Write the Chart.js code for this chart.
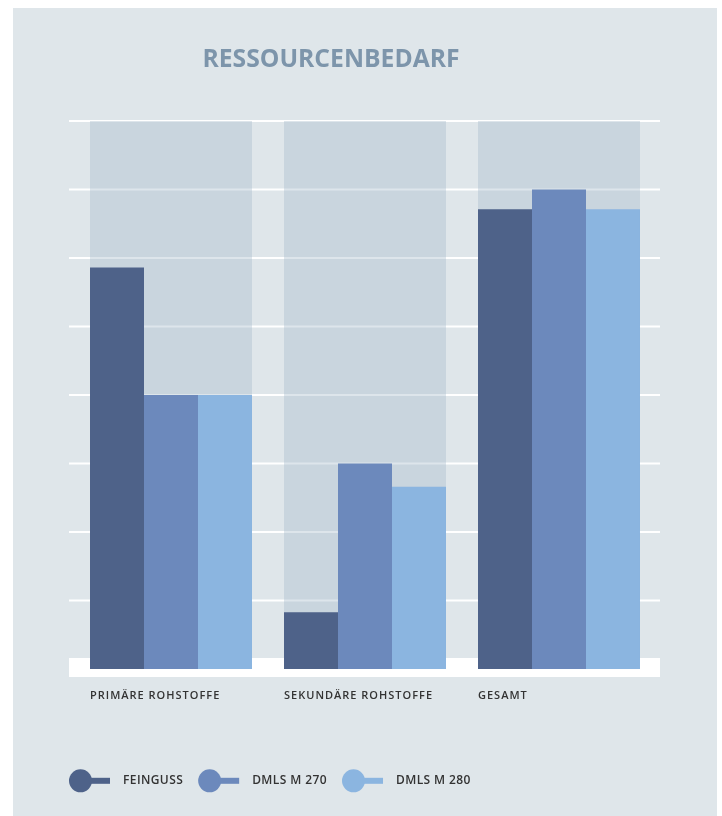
<!DOCTYPE html>
<html><head><meta charset="utf-8">
<script src="https://cdn.jsdelivr.net/npm/chart.js@4"></script>
<style>
html,body{margin:0;padding:0;background:#fff;}
body{width:722px;height:816px;position:relative;overflow:hidden;}
#panel{position:absolute;left:13px;top:8px;width:704px;height:808px;background:#dfe6ea;}
#c{position:absolute;left:0;top:0;}
</style></head><body>
<div id="panel"></div>
<canvas id="c" width="722" height="816"></canvas>
<script>
const TITLE = 'RESSOURCENBEDARF';
const CATEGORIES = ['PRIMÄRE ROHSTOFFE', 'SEKUNDÄRE ROHSTOFFE', 'GESAMT'];
const SERIES_NAMES = ['FEINGUSS', 'DMLS M 270', 'DMLS M 280'];
const FEINGUSS = [5.86, 0.83, 6.71];
const DMLS_M270 = [4.0, 3.0, 7.0];
const DMLS_M280 = [4.0, 2.66, 6.71];
const TRACK = [8, 8, 8];
const Y_TICKS = [0, 1, 2, 3, 4, 5, 6, 7, 8];

const COLORS = ['#4e6289', '#6c89bc', '#8bb5e0'];
const TRACK_COLOR = 'rgba(164,187,202,0.375)';
const FONT = '"Open Sans", "Noto Sans", sans-serif';

const spacingPlugin = {
  id: 'spacing',
  beforeDraw(chart) { chart.ctx.letterSpacing = '1px'; }
};

const gridPlugin = {
  id: 'gridBand',
  beforeDatasetsDraw(chart) {
    const ctx = chart.ctx, y = chart.scales.y;
    const left = 69, right = 660;
    ctx.save();
    ctx.fillStyle = '#ffffff';
    const zero = y.getPixelForValue(0);
    ctx.fillRect(left, zero - 11, right - left, 19);
    Y_TICKS.forEach(v => {
      if (v === 0) return;
      const py = y.getPixelForValue(v);
      ctx.fillRect(left, py - 1, right - left, 2);
    });
    ctx.restore();
  }
};

const overlayPlugin = {
  id: 'overlay',
  afterDraw(chart) {
    const ctx = chart.ctx;
    ctx.save();
    // title
    ctx.letterSpacing = '0px';
    ctx.font = '700 24.7px ' + FONT;
    ctx.fillStyle = '#7d95ab';
    ctx.textAlign = 'center';
    ctx.textBaseline = 'alphabetic';
    ctx.fillText(TITLE, 331, 67);
    // legend
    ctx.letterSpacing = '0.4px';
    ctx.font = '600 12px ' + FONT;
    ctx.textAlign = 'left';
    ctx.textBaseline = 'middle';
    let x = 69;
    const cy = 780.8;
    chart.data.datasets.forEach(ds => {
      if (ds.isTrack) return;
      ctx.fillStyle = ds.backgroundColor;
      ctx.beginPath();
      ctx.arc(x + 11.5, cy, 11.5, 0, Math.PI * 2);
      ctx.fill();
      ctx.fillRect(x + 20, cy - 3, 21, 6);
      ctx.fillStyle = '#333333';
      ctx.fillText(ds.label, x + 54, cy);
      x += 54 + ctx.measureText(ds.label).width + 15;
    });
    ctx.restore();
  }
};

new Chart(document.getElementById('c'), {
  type: 'bar',
  data: {
    labels: CATEGORIES,
    datasets: [
      { label: SERIES_NAMES[0], data: FEINGUSS, backgroundColor: COLORS[0], order: 1 },
      { label: SERIES_NAMES[1], data: DMLS_M270, backgroundColor: COLORS[1], order: 1 },
      { label: SERIES_NAMES[2], data: DMLS_M280, backgroundColor: COLORS[2], order: 1 },
      { label: 'track', isTrack: true, grouped: false, data: TRACK, backgroundColor: TRACK_COLOR, order: 5 }
    ]
  },
  options: {
    responsive: false,
    animation: false,
    devicePixelRatio: 1,
    layout: { padding: { top: 121, left: 74, right: 66, bottom: 107 } },
    datasets: { bar: { categoryPercentage: 0.835, barPercentage: 1, borderWidth: 0 } },
    scales: {
      x: {
        offset: true,
        grid: { display: false, drawTicks: false },
        border: { display: false },
        ticks: {
          align: 'start', labelOffset: -81, padding: 20, color: '#333333',
          autoSkip: false, maxRotation: 0,
          font: { family: FONT, size: 11, weight: '600' }
        },
        afterFit: s => { s.height = 40; }
      },
      y: { display: false, min: 0, max: 8 }
    },
    plugins: { legend: { display: false }, title: { display: false }, tooltip: { enabled: false } }
  },
  plugins: [spacingPlugin, gridPlugin, overlayPlugin]
});
</script>
</body></html>
